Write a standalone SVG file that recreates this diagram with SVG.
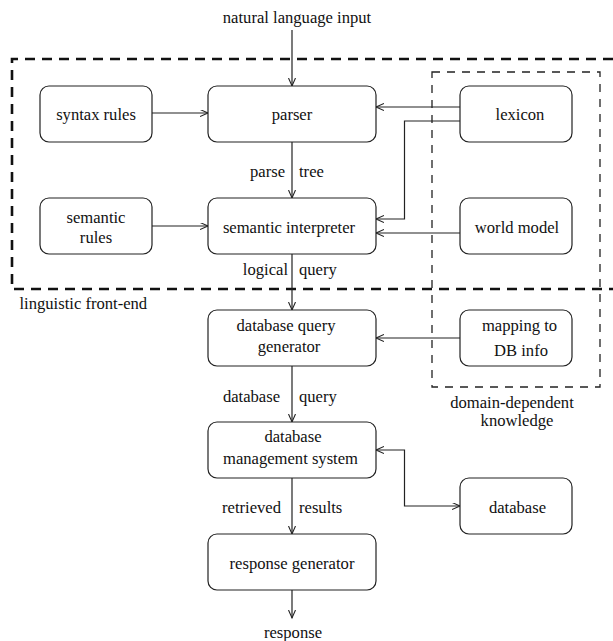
<svg xmlns="http://www.w3.org/2000/svg" width="613" height="641" viewBox="0 0 613 641">
<style>
text{font-family:"Liberation Serif","Times New Roman",Times,serif;font-size:16.6px;fill:#111}
.m{text-anchor:middle}
.e{text-anchor:end}
.box{fill:#fff;stroke:#222;stroke-width:1.2}
.c{fill:none;stroke:#222;stroke-width:1.2}
.outer{fill:none;stroke:#111;stroke-width:2.6;stroke-dasharray:10 7}
.inner{fill:none;stroke:#222;stroke-width:1.3;stroke-dasharray:8 7}
</style>
<defs>
<marker id="ah" markerUnits="userSpaceOnUse" markerWidth="10" markerHeight="8" refX="8" refY="3.5" orient="auto-start-reverse">
<path d="M0,0 L8,3.5 L0,7" fill="none" stroke="#222" stroke-width="1.1"/>
</marker>
</defs>
<g id="frames">
<path class="outer" d="M613,59 H12 V289 H613"/>
<rect class="inner" x="432" y="72" width="168" height="315"/>
<text x="19.5" y="309">linguistic front-end</text>
<text class="m" x="512" y="408">domain-dependent</text>
<text class="m" x="517" y="426">knowledge</text>
</g>
<g id="connectors">
<path class="c" d="M292,30 V86" marker-end="url(#ah)"/>
<path class="c" d="M152,113 H208" marker-end="url(#ah)"/>
<path class="c" d="M292,142 V198" marker-end="url(#ah)"/>
<path class="c" d="M460,107 H376" marker-end="url(#ah)"/>
<path class="c" d="M460,121 H404.5 V219 H376" marker-end="url(#ah)"/>
<path class="c" d="M460,233 H376" marker-end="url(#ah)"/>
<path class="c" d="M152,226 H208" marker-end="url(#ah)"/>
<path class="c" d="M292,254 V310" marker-end="url(#ah)"/>
<path class="c" d="M460,338 H376" marker-end="url(#ah)"/>
<path class="c" d="M292,366 V422" marker-end="url(#ah)"/>
<path class="c" d="M376,450 H404.5 V506 H460" marker-start="url(#ah)" marker-end="url(#ah)"/>
<path class="c" d="M292,478 V534" marker-end="url(#ah)"/>
<path class="c" d="M292,590 V618" marker-end="url(#ah)"/>
<text class="e" x="285" y="177">parse</text>
<text x="299" y="177">tree</text>
<text class="e" x="288" y="275">logical</text>
<text x="299" y="275">query</text>
<text class="e" x="280" y="402">database</text>
<text x="299" y="402">query</text>
<text class="e" x="281" y="513">retrieved</text>
<text x="299" y="513">results</text>
</g>
<g id="input"><text class="m" x="297" y="23">natural language input</text></g>
<g id="syntax-rules"><rect class="box" x="40" y="86" width="112" height="56" rx="9"/><text class="m" x="96" y="120">syntax rules</text></g>
<g id="parser"><rect class="box" x="208" y="86" width="168" height="56" rx="9"/><text class="m" x="292" y="120">parser</text></g>
<g id="lexicon"><rect class="box" x="460" y="86" width="112" height="56" rx="9"/><text class="m" x="520" y="120">lexicon</text></g>
<g id="semantic-rules"><rect class="box" x="40" y="198" width="112" height="56" rx="9"/><text class="m" x="96" y="223">semantic</text><text class="m" x="96" y="243">rules</text></g>
<g id="semantic-interpreter"><rect class="box" x="208" y="198" width="168" height="56" rx="9"/><text class="m" x="289" y="233">semantic interpreter</text></g>
<g id="world-model"><rect class="box" x="460" y="198" width="112" height="56" rx="9"/><text class="m" x="517" y="233">world model</text></g>
<g id="db-query-generator"><rect class="box" x="208" y="310" width="168" height="56" rx="9"/><text class="m" x="286" y="331">database query</text><text class="m" x="289" y="352">generator</text></g>
<g id="mapping"><rect class="box" x="460" y="310" width="112" height="56" rx="9"/><text class="m" x="519.5" y="331">mapping to</text><text class="m" x="521" y="356">DB info</text></g>
<g id="dbms"><rect class="box" x="208" y="422" width="168" height="56" rx="9"/><text class="m" x="293" y="442">database</text><text class="m" x="290.5" y="464">management system</text></g>
<g id="database"><rect class="box" x="460" y="478" width="112" height="56" rx="9"/><text class="m" x="517.5" y="513">database</text></g>
<g id="response-generator"><rect class="box" x="208" y="534" width="168" height="56" rx="9"/><text class="m" x="292" y="569">response generator</text></g>
<g id="response"><text class="m" x="293" y="638">response</text></g>
</svg>
